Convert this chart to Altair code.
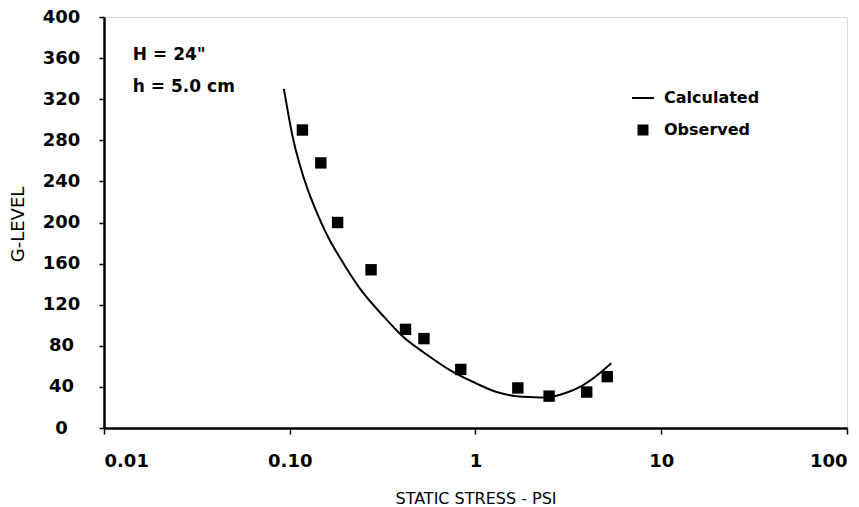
import altair as alt
import pandas as pd

# Observed data (static stress in psi, G-level)
obs_x = [0.117, 0.147, 0.181, 0.274, 0.420, 0.528, 0.833, 1.69, 2.49, 3.97, 5.12]
obs_y = [290, 258, 200, 154, 96, 87, 57, 39, 31, 35, 50]

# Calculated curve
calc_x = [0.093, 0.097, 0.1035, 0.1125, 0.125, 0.142, 0.164, 0.198, 0.245, 0.315,
          0.406, 0.522, 0.732, 1.02, 1.30, 1.66, 2.04, 2.49, 3.05, 3.74, 4.57, 5.38]
calc_y = [330, 311, 284, 258, 232, 207, 183, 158, 133, 110,
          89, 74, 56, 43, 35, 31, 30, 30, 34, 41, 52, 63]

series_names = ["Calculated", "Observed"]

x_ticks = [0.01, 0.1, 1, 10, 100]
x_tick_labels = ["0.01", "0.10", "1", "10", "100"]
y_ticks = [0, 40, 80, 120, 160, 200, 240, 280, 320, 360, 400]

notes = ['H = 24"', "h = 5.0 cm"]
note_x = [0.0143, 0.0143]
note_y = [363, 332]

FONT = "DejaVu Sans"

obs_df = pd.DataFrame({"x": obs_x, "y": obs_y, "series": series_names[1]})
calc_df = pd.DataFrame({"x": calc_x, "y": calc_y, "series": series_names[0]})
note_df = pd.DataFrame({"x": note_x, "y": note_y, "text": notes})

label_expr = " : ".join(
    f"datum.value < {v * 1.5} ? '{t}'" for v, t in zip(x_ticks[:-1], x_tick_labels[:-1])
) + f" : '{x_tick_labels[-1]}'"

x_scale = alt.Scale(type="log", domain=[0.01, 100])
y_scale = alt.Scale(domain=[0, 400])

x_enc = alt.X(
    "x:Q", scale=x_scale,
    axis=alt.Axis(
        title="STATIC  STRESS - PSI", values=x_ticks, labelExpr=label_expr,
        grid=False, domainColor="black", domainWidth=2.5, tickColor="black",
        tickWidth=1.5, tickSize=6, labelFont=FONT, labelFontSize=18,
        labelFontWeight="bold",
        labelColor="black", labelPadding=18, labelBaseline="top",
        titleFont=FONT, titleFontSize=16, titleFontWeight="normal",
        titleColor="black", titleY=70, titleBaseline="middle",
    ),
)
y_enc = alt.Y(
    "y:Q", scale=y_scale,
    axis=alt.Axis(
        title="G-LEVEL", values=y_ticks, grid=False, domainColor="black",
        domainWidth=2.5, tickColor="black", tickWidth=1.5, tickSize=5,
        labelFont=FONT, labelFontSize=18, labelFontWeight="bold",
        labelColor="black",
        labelAlign="center", labelPadding=38, labelBaseline="middle",
        titleFont=FONT, titleFontSize=18, titleFontWeight="normal",
        titleColor="black", titleX=-86, titleY=207, titleAngle=270,
        titleAlign="center", titleBaseline="middle",
    ),
)

line = alt.Chart(calc_df).mark_line(color="black", strokeWidth=2, interpolate="natural").encode(
    x=x_enc, y=y_enc
)

points = alt.Chart(obs_df).mark_point(filled=True, color="black", size=130, opacity=1).encode(
    x="x:Q",
    y="y:Q",
    shape=alt.Shape(
        "series:N",
        scale=alt.Scale(domain=series_names,
                        range=["M-2,-0.18H2V0.18H-2Z", "square"]),
        legend=alt.Legend(
            title=None, orient="none", legendX=531, legendY=73,
            symbolSize=121, symbolFillColor="black", symbolStrokeWidth=0,
            labelFont=FONT, labelFontSize=16, labelFontWeight="bold",
            labelColor="black",
            labelOffset=13, rowPadding=16, padding=0,
        ),
    ),
)

ann = alt.Chart(note_df).mark_text(
    align="left", baseline="middle", font=FONT, fontSize=17, fontWeight="bold",
    color="black"
).encode(x="x:Q", y="y:Q", text="text:N")

chart = alt.layer(line, points, ann).properties(
    width=743, height=411,
    padding={"left": 104, "top": 17, "right": 12, "bottom": 79},
    autosize=alt.AutoSizeParams(type="none"),
).configure_view(stroke="black", strokeWidth=2).configure(background="white")

chart.save("out.html", embed_options={"renderer": "svg", "actions": False})
